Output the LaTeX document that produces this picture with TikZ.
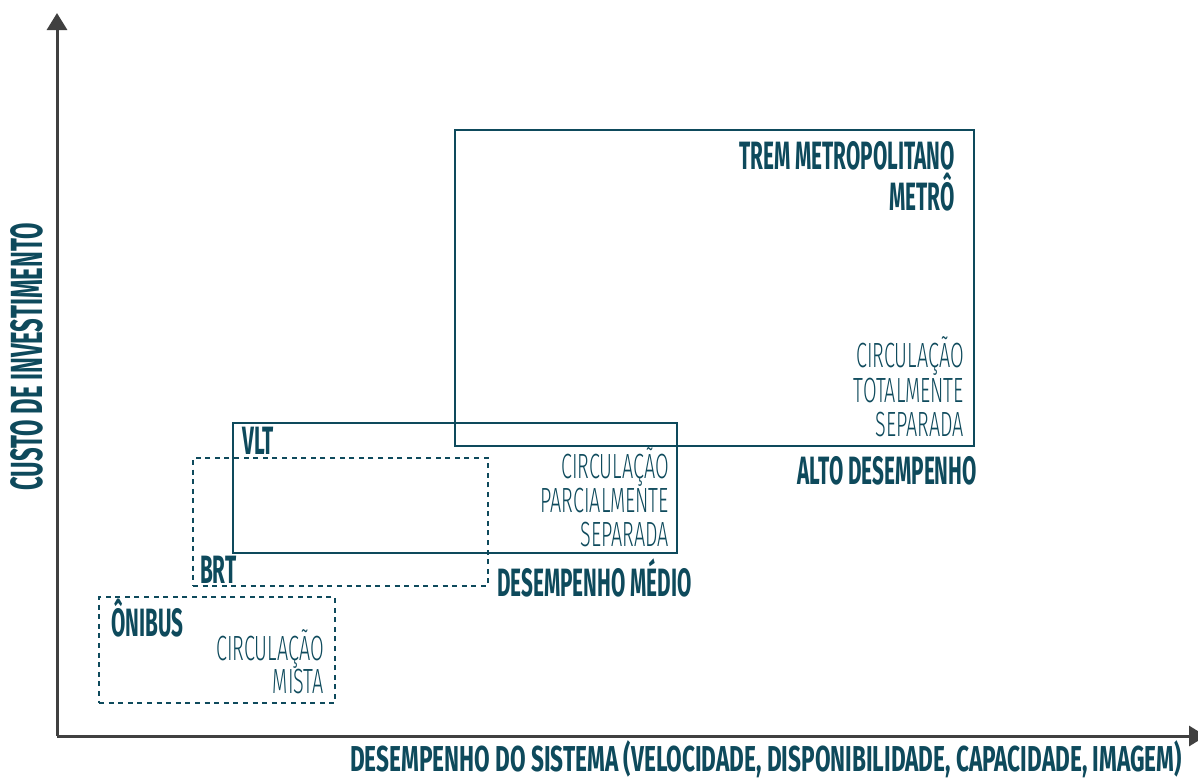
\documentclass[tikz,border=0pt]{standalone}
\usepackage{fontspec}
\setmainfont{Fira Sans}
\newfontfamily\boldf[FakeStretch=0.525]{Fira Sans}
\newfontfamily\xlabf[FakeStretch=0.628]{Fira Sans}
\newfontfamily\ylabf[FakeStretch=0.53]{Fira Sans}
\newfontfamily\lightf[FakeStretch=0.565]{Fira Sans Light}
\usetikzlibrary{arrows.meta}
\definecolor{teal}{HTML}{0E4A5C}
\definecolor{axisgray}{HTML}{404040}
\tikzset{
  axisline/.style={draw=axisgray, line width=3pt, -{Triangle[length=17pt,width=20pt]}},
  solidbox/.style={draw=teal, line width=2.4pt, inner sep=0pt, outer sep=0pt},
  dashbox/.style={draw=teal, line width=2.4pt, dash pattern=on 5pt off 4.6pt, inner sep=0pt, outer sep=0pt},
  title/.style={text=teal, inner sep=0pt, font=\boldf\bfseries\fontsize{39.5}{39.5}\selectfont},
  light/.style={text=teal, inner sep=0pt, font=\lightf\fontsize{35}{35}\selectfont},
  xlabel/.style={text=teal, inner sep=0pt, font=\xlabf\bfseries\fontsize{36}{36}\selectfont},
  ylabel/.style={text=teal, inner sep=0pt, font=\ylabf\bfseries\fontsize{45}{45}\selectfont},
}
\begin{document}
\begin{tikzpicture}[x=1pt,y=-1pt]
\useasboundingbox (0,0) rectangle (1198,780);
% axes
\coordinate (O) at (57,736);
\coordinate (Ytip) at (57,13);
\coordinate (Xtip) at (1206,736);
\draw[axisline] (O) -- (Ytip);
\draw[axisline] (O) -- (Xtip);
% boxes
\node[solidbox, minimum width=519pt, minimum height=316pt] (metro) at (714.5,288) {};
\node[solidbox, minimum width=444pt, minimum height=130pt] (vlt) at (455,488) {};
\node[dashbox, minimum width=295pt, minimum height=128pt] (brt) at (340.5,522) {};
\node[dashbox, minimum width=236pt, minimum height=106pt] (onibus) at (217,650) {};
% high performance
\node[title, anchor=base east] (trem) at (955,169) {TREM METROPOLITANO};
\node[title, anchor=base east] (metroT) at (955,210) {METRÔ};
\node[light, anchor=base east] (c1a) at (964,367) {CIRCULAÇÃO};
\node[light, anchor=base east] (c1b) at (964,402) {TOTALMENTE};
\node[light, anchor=base east] (c1c) at (964,436) {SEPARADA};
\node[title, anchor=base east] (alto) at (977,484) {ALTO DESEMPENHO};
% medium
\node[title, anchor=base west] (vltT) at (242,454) {VLT};
\node[light, anchor=base east] (c2a) at (669,478) {CIRCULAÇÃO};
\node[light, anchor=base east] (c2b) at (669,512) {PARCIALMENTE};
\node[light, anchor=base east] (c2c) at (669,546) {SEPARADA};
\node[title, anchor=base west] (medio) at (497,596) {DESEMPENHO MÉDIO};
\node[title, anchor=base west] (brtT) at (200,583) {BRT};
% low
\node[title, anchor=base west] (onibusT) at (111,636) {ÔNIBUS};
\node[light, anchor=base east] (c3a) at (324,660) {CIRCULAÇÃO};
\node[light, anchor=base east] (c3b) at (324,693) {MISTA};
% axis labels
\node[xlabel, anchor=base west] (xlab) at (350,771) {DESEMPENHO DO SISTEMA (VELOCIDADE, DISPONIBILIDADE, CAPACIDADE, IMAGEM)};
\node[ylabel, anchor=base, rotate=90] (ylab) at (42,357) {CUSTO DE INVESTIMENTO};
\end{tikzpicture}
\end{document}
